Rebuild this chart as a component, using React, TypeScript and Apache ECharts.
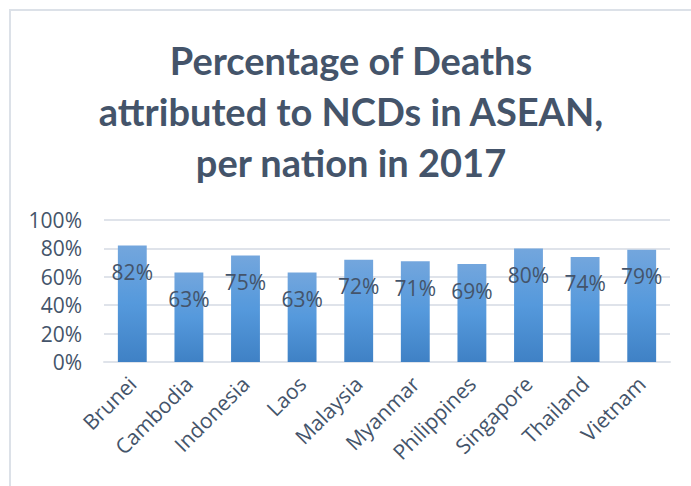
import React, { useEffect, useRef } from "react";
import * as echarts from "echarts";

const countries = ["Brunei", "Cambodia", "Indonesia", "Laos", "Malaysia", "Myanmar", "Philippines", "Singapore", "Thailand", "Vietnam"];
const ncdShare = [82, 63, 75, 63, 72, 71, 69, 80, 74, 79];
const yTicks = { min: 0, max: 100, interval: 20 };
const titleText = "Percentage of Deaths\nattributed to NCDs in ASEAN,\nper nation in 2017";

const TEXT = "#44546A";
const FONT = "'Open Sans', sans-serif";

export default function App() {
  const ref = useRef<HTMLDivElement>(null);
  useEffect(() => {
    if (!ref.current) return;
    const chart = echarts.init(ref.current, null, { renderer: "svg" });
    chart.setOption({
      animation: false,
      backgroundColor: "#ffffff",
      title: {
        text: titleText,
        left: 346,
        textAlign: "center",
        top: 29,
        textStyle: {
          color: TEXT,
          fontFamily: "Lato, sans-serif",
          fontWeight: "bold",
          fontSize: 38,
          lineHeight: 51,
        },
      },
      graphic: [
        {
          type: "rect",
          shape: { x: 10, y: 10, width: 700, height: 500 },
          style: { fill: "none", stroke: "#dce1e8", lineWidth: 2 },
          silent: true,
        },
      ],
      grid: { left: 104, right: 21, top: 220, bottom: 124, containLabel: false },
      xAxis: {
        type: "category",
        data: countries,
        axisLine: { show: true, lineStyle: { color: "#dfe3ea", width: 2 } },
        axisTick: { show: false },
        axisLabel: {
          rotate: 45,
          interval: 0,
          margin: 18,
          color: TEXT,
          fontFamily: FONT,
          fontSize: 21,
        },
      },
      yAxis: {
        type: "value",
        min: yTicks.min,
        max: yTicks.max,
        interval: yTicks.interval,
        axisLine: { show: false },
        axisTick: { show: false },
        splitLine: { lineStyle: { color: "#dfe3ea", width: 2 } },
        axisLabel: {
          formatter: "{value}%",
          margin: 22,
          color: TEXT,
          fontFamily: FONT,
          fontSize: 21,
        },
      },
      series: [
        {
          type: "bar",
          data: ncdShare,
          barWidth: "51%",
          itemStyle: {
            color: new echarts.graphic.LinearGradient(0, 0, 0, 1, [
              { offset: 0, color: "#73a6dd" },
              { offset: 0.5, color: "#5599dc" },
              { offset: 1, color: "#3f81c5" },
            ]),
          },
          label: {
            show: true,
            position: "insideTop",
            distance: 16,
            formatter: "{c}%",
            color: TEXT,
            fontFamily: FONT,
            fontSize: 21,
          },
        },
      ],
    });
    return () => chart.dispose();
  }, []);
  return (
    <div
      ref={ref}
      style={{ position: "fixed", left: 0, top: 0, width: 691, height: 486 }}
    />
  );
}
